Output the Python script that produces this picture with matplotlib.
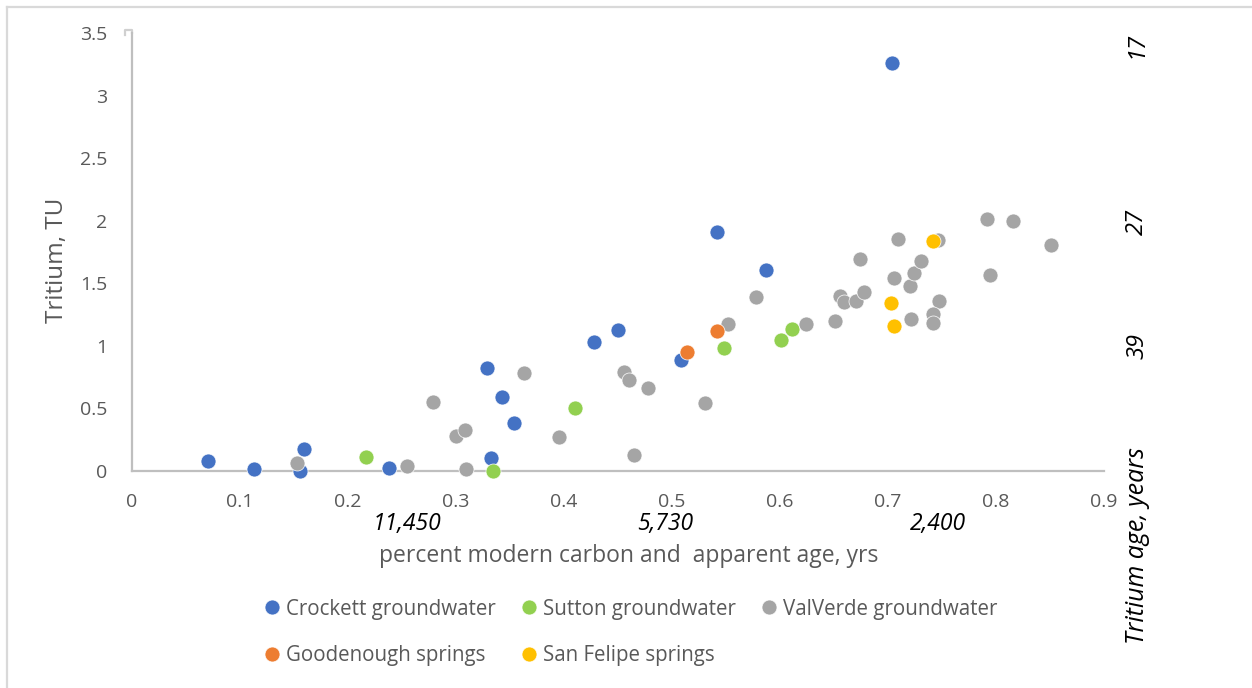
import matplotlib
matplotlib.use("Agg")
import matplotlib.pyplot as plt
from matplotlib.lines import Line2D

plt.rcParams['font.family'] = ['Open Sans', 'DejaVu Sans']

# ---- data ----
crockett_x = [0.070, 0.113, 0.156, 0.159, 0.238, 0.332, 0.329, 0.343, 0.354, 0.428, 0.450, 0.508, 0.542, 0.587, 0.704]
crockett_y = [0.08, 0.016, 0.0, 0.176, 0.024, 0.10, 0.82, 0.59, 0.38, 1.03, 1.13, 0.89, 1.91, 1.61, 3.26]

sutton_x = [0.217, 0.334, 0.410, 0.548, 0.601, 0.611]
sutton_y = [0.112, 0.0, 0.50, 0.98, 1.05, 1.135]

valverde_x = [0.153, 0.255, 0.279, 0.300, 0.308, 0.309, 0.363, 0.395, 0.456, 0.4605, 0.4775, 0.4645,
              0.531, 0.552, 0.578, 0.624, 0.651, 0.656, 0.659, 0.670, 0.678, 0.674, 0.706, 0.709,
              0.720, 0.724, 0.731, 0.721, 0.746, 0.747, 0.742, 0.742, 0.792, 0.816, 0.794, 0.851]
valverde_y = [0.066, 0.037, 0.55, 0.28, 0.33, 0.016, 0.783, 0.272, 0.794, 0.727, 0.661, 0.125,
              0.543, 1.172, 1.388, 1.177, 1.199, 1.399, 1.351, 1.359, 1.428, 1.697, 1.545, 1.855,
              1.476, 1.585, 1.679, 1.218, 1.844, 1.357, 1.253, 1.183, 2.017, 1.996, 1.564, 1.806]

goodenough_x = [0.514, 0.542]
goodenough_y = [0.95, 1.12]

sanfelipe_x = [0.742, 0.703, 0.706]
sanfelipe_y = [1.838, 1.34, 1.16]

x_ticks = [0, 0.1, 0.2, 0.3, 0.4, 0.5, 0.6, 0.7, 0.8, 0.9]
x_tick_labels = ['0', '0.1', '0.2', '0.3', '0.4', '0.5', '0.6', '0.7', '0.8', '0.9']
y_ticks = [0, 0.5, 1, 1.5, 2, 2.5, 3, 3.5]
y_tick_labels = ['0', '0.5', '1', '1.5', '2', '2.5', '3', '3.5']

carbon_age_x = [0.255, 0.494, 0.746]
carbon_age_labels = ['11,450', '5,730', '2,400']
tritium_age_y = [3.405, 1.99, 1.0]
tritium_age_labels = ['17', '27', '39']

# ---- figure ----
W, H = 1252, 688
fig = plt.figure(figsize=(W / 100, H / 100), dpi=100)
ax = fig.add_axes([132 / W, 1 - 471 / H, 972 / W, 438 / H])

ms = 10.8
series = [
    (crockett_x, crockett_y, '#4472C4', 'Crockett groundwater'),
    (sutton_x, sutton_y, '#92D050', 'Sutton groundwater'),
    (valverde_x, valverde_y, '#A5A5A5', 'ValVerde groundwater'),
    (goodenough_x, goodenough_y, '#ED7D31', 'Goodenough springs'),
    (sanfelipe_x, sanfelipe_y, '#FFC000', 'San Felipe springs'),
]
handles = {}
for i, (xs, ys, c, lab) in enumerate(series):
    h, = ax.plot(xs, ys, 'o', color=c, markersize=ms, markeredgecolor='white',
                 markeredgewidth=0.5, linestyle='none', label=lab, clip_on=False, zorder=3 + i)
    handles[lab] = h

ax.set_xlim(0, 0.9)
ax.set_ylim(0, 3.5)
ax.set_xticks(x_ticks)
ax.set_xticklabels(x_tick_labels)
ax.set_yticks(y_ticks)
ax.set_yticklabels(y_tick_labels)
ax.tick_params(length=0, labelsize=14, labelcolor='#595959')
ax.tick_params(axis='x', pad=16)
ax.tick_params(axis='y', pad=18)
for s in ['top', 'right']:
    ax.spines[s].set_visible(False)
for s in ['left', 'bottom']:
    ax.spines[s].set_color('#BFBFBF')
    ax.spines[s].set_linewidth(1.6)
    ax.spines[s].set_zorder(1)

# small cap at top of y axis
ax.plot([-0.0065, -0.0065, 0.0, 0.0], [3.485, 3.525, 3.525, 3.5], color='#D0D0D0',
        lw=1.6, clip_on=False, zorder=1)

ax.set_ylabel('Tritium, TU', fontsize=17.5, color='#595959')
ax.yaxis.set_label_coords((57 - 132) / 972, 0.5 - (260 - 252) / 438)
ax.yaxis.label.set_va('center')
ax.set_xlabel('percent modern carbon and  apparent age, yrs', fontsize=16.5, color='#595959')
ax.xaxis.set_label_coords((629 - 132) / 972, -(556 - 471) / 438)
ax.xaxis.label.set_va('center')

# italic apparent carbon ages below the x axis
for xv, lab in zip(carbon_age_x, carbon_age_labels):
    ax.annotate(lab, xy=(xv, 0), xycoords=('data', 'axes fraction'), xytext=(0, -53),
                textcoords='offset pixels', ha='center', va='center', fontsize=16.5,
                style='italic', color='black')

# italic tritium ages on the right
for yv, lab in zip(tritium_age_y, tritium_age_labels):
    ax.annotate(lab, xy=(1, yv), xycoords=('axes fraction', 'data'), xytext=(33, 0),
                textcoords='offset pixels', ha='center', va='center', fontsize=17,
                style='italic', color='black', rotation=90)
fig.text(1137 / W, 1 - 546 / H, 'Tritium age, years', rotation=90, ha='center', va='center',
         fontsize=18, style='italic', color='black')

# legend
order = ['Crockett groundwater', 'Goodenough springs', 'Sutton groundwater',
         'San Felipe springs', 'ValVerde groundwater']
leg = fig.legend([handles[k] for k in order], order, ncol=3, loc='center',
                 bbox_to_anchor=(629 / W, 1 - 632.5 / H), frameon=False, fontsize=14.8,
                 labelcolor='#595959', handletextpad=0.1, columnspacing=1.1,
                 labelspacing=1.25, markerscale=1.0, handlelength=1.1)

# chart-area border (top and left)
fig.add_artist(Line2D([6.5 / W, 6.5 / W], [0, 1 - 6.5 / H], transform=fig.transFigure,
                      color='#D9D9D9', lw=1.6))
fig.add_artist(Line2D([6.5 / W, 1], [1 - 6.5 / H, 1 - 6.5 / H], transform=fig.transFigure,
                      color='#D9D9D9', lw=1.6))

fig.savefig('out.png', dpi=100, facecolor='white')
